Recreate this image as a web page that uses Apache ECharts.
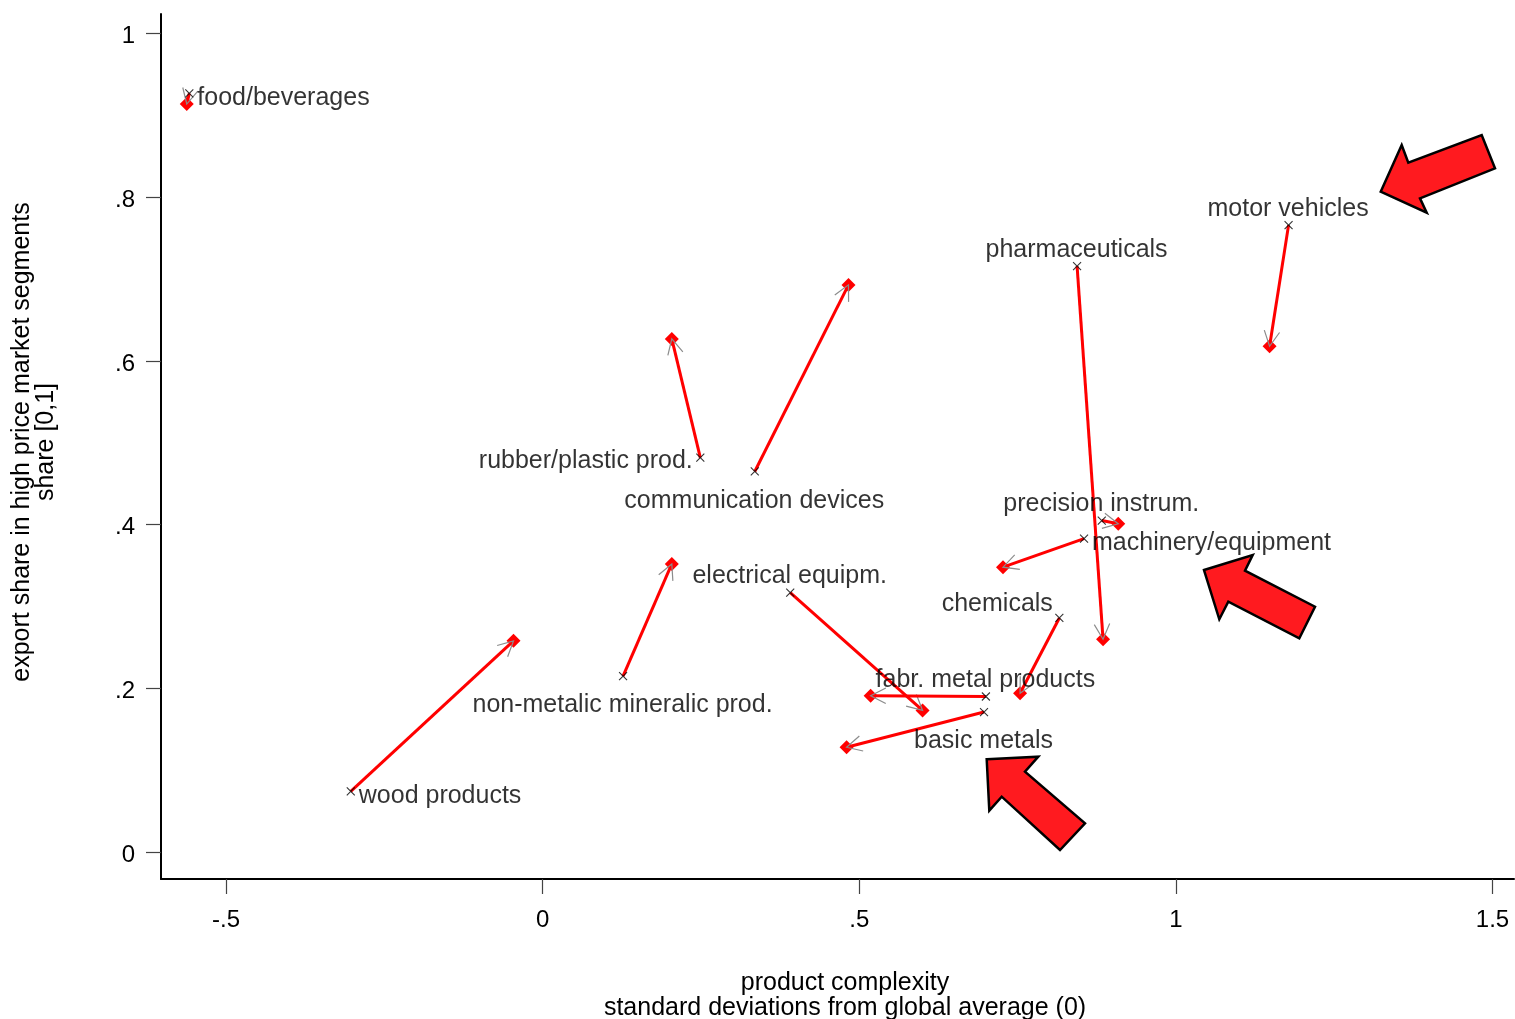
<!DOCTYPE html>
<html>
<head>
<meta charset="utf-8">
<script src="https://cdn.jsdelivr.net/npm/echarts@6/dist/echarts.min.js"></script>
<style>
html,body{margin:0;padding:0;background:#fff;}
#chart{width:1515px;height:1019px;}
</style>
</head>
<body>
<div id="chart"></div>
<script>
// ---- data ----
var industries = ['food/beverages','motor vehicles','pharmaceuticals','rubber/plastic prod.','communication devices','precision instrum.','machinery/equipment','electrical equipm.','chemicals','non-metalic mineralic prod.','wood products','fabr. metal products','basic metals'];
var complexityStart = [-0.558, 1.178, 0.844, 0.249, 0.335, 0.883, 0.855, 0.391, 0.816, 0.127, -0.303, 0.700, 0.697];
var shareStart      = [0.927, 0.766, 0.716, 0.482, 0.465, 0.405, 0.383, 0.317, 0.286, 0.215, 0.074, 0.190, 0.171];
var complexityEnd   = [-0.562, 1.148, 0.885, 0.204, 0.483, 0.909, 0.727, 0.600, 0.754, 0.204, -0.046, 0.518, 0.480];
var shareEnd        = [0.914, 0.618, 0.260, 0.627, 0.693, 0.401, 0.348, 0.173, 0.194, 0.352, 0.258, 0.191, 0.128];
var labelPlacement  = ['right','top','top','left','bottom','top','right','top','topleft','bottom','right','top','bottom'];
var xTicks = [-0.5, 0, 0.5, 1, 1.5];
var xTickLabels = ['-.5', '0', '.5', '1', '1.5'];
var yTicks = [0, 0.2, 0.4, 0.6, 0.8, 1];
var yTickLabels = ['0', '.2', '.4', '.6', '.8', '1'];
var xTitle = 'product complexity\nstandard deviations from global average (0)';
var yTitle = 'export share in high price market segments\nshare [0,1]';

var FONT = '"Liberation Sans", Arial, sans-serif';

// label placement styles (relative to the 8x8 marker box)
var placementStyle = {
  right:   {position: [14.5, 11.5], align: 'left', verticalAlign: 'middle'},
  left:    {position: [-1, 10.5], align: 'right', verticalAlign: 'middle'},
  top:     {position: [6, -9.5], align: 'center', verticalAlign: 'middle'},
  bottom:  {position: [6, 36], align: 'center', verticalAlign: 'middle'},
  topleft: {position: [0, -7.5], align: 'right', verticalAlign: 'middle'}
};

function labelFor(p) {
  var base = {show: true, fontSize: 25, color: '#000', fontFamily: FONT, formatter: '{b}'};
  return Object.assign(base, placementStyle[p]);
}

var startData = industries.map(function (n, i) {
  return {name: n, value: [complexityStart[i], shareStart[i]], label: labelFor(labelPlacement[i])};
});
var endData = industries.map(function (n, i) { return [complexityEnd[i], shareEnd[i]]; });
var arrowData = industries.map(function (n, i) {
  return [complexityStart[i], shareStart[i], complexityEnd[i], shareEnd[i]];
});

function tickIdx(arr, v) {
  for (var i = 0; i < arr.length; i++) if (Math.abs(arr[i] - v) < 1e-9) return i;
  return -1;
}

function bigArrow(pts) {
  return {
    type: 'polygon',
    shape: {points: pts},
    style: {fill: '#FF1A1F', stroke: '#000', lineWidth: 2.5, lineJoin: 'miter'},
    z: 100
  };
}

var chart = echarts.init(document.getElementById('chart'), null, {renderer: 'canvas'});
chart.setOption({
  animation: false,
  backgroundColor: '#fff',
  grid: {left: 161, right: 1, top: 14, bottom: 140, containLabel: false},
  xAxis: {
    type: 'value', min: -0.6027, max: 1.534,
    splitLine: {show: false},
    axisLine: {show: true, onZero: false, lineStyle: {color: '#000', width: 2}},
    axisTick: {show: true, inside: false, length: 15, customValues: xTicks, lineStyle: {color: '#444', width: 1.2}},
    axisLabel: {show: true, margin: 29, fontSize: 24, color: '#000', fontFamily: FONT, customValues: xTicks,
      formatter: function (v) { var k = tickIdx(xTicks, v); return k >= 0 ? xTickLabels[k] : ''; }}
  },
  yAxis: {
    type: 'value', min: -0.033, max: 1.024,
    splitLine: {show: false},
    axisLine: {show: true, onZero: false, lineStyle: {color: '#000', width: 2}},
    axisTick: {show: true, inside: false, length: 15, customValues: yTicks, lineStyle: {color: '#444', width: 1.2}},
    axisLabel: {show: true, margin: 26, fontSize: 24, color: '#000', fontFamily: FONT, customValues: yTicks,
      rich: {t: {fontSize: 24, color: '#000', fontFamily: FONT, padding: [6, 0, 0, 0]}},
      formatter: function (v) { var k = tickIdx(yTicks, v); return k >= 0 ? '{t|' + yTickLabels[k] + '}' : ''; }}
  },
  series: [
    {
      type: 'scatter', name: 'end', data: endData, symbol: 'diamond', symbolSize: 14,
      itemStyle: {color: '#FF0000', opacity: 1}, z: 2, silent: true
    },
    {
      type: 'custom', name: 'change', data: arrowData, z: 3, silent: true,
      encode: {x: [0, 2], y: [1, 3]},
      renderItem: function (params, api) {
        var p0 = api.coord([api.value(0), api.value(1)]);
        var p1 = api.coord([api.value(2), api.value(3)]);
        var dx = p1[0] - p0[0], dy = p1[1] - p0[1];
        var ang = Math.atan2(dy, dx);
        var L = 17, a = 27 * Math.PI / 180;
        var b1 = [p1[0] - L * Math.cos(ang - a), p1[1] - L * Math.sin(ang - a)];
        var b2 = [p1[0] - L * Math.cos(ang + a), p1[1] - L * Math.sin(ang + a)];
        return {
          type: 'group',
          children: [
            {type: 'line', shape: {x1: p0[0], y1: p0[1], x2: p1[0], y2: p1[1]}, style: {stroke: '#FF0000', lineWidth: 3}},
            {type: 'polyline', shape: {points: [b1, p1, b2]}, style: {stroke: '#8c8c8c', lineWidth: 1.2, fill: null}}
          ]
        };
      }
    },
    {
      type: 'scatter', name: 'start', data: startData,
      symbol: 'path://M0,0L10,10M10,0L0,10', symbolSize: 8,
      itemStyle: {color: 'none', borderColor: '#000', borderWidth: 1.1}, z: 4, silent: true
    }
  ],
  graphic: [
    {type: 'text', x: 34, y: 442, rotation: Math.PI / 2,
      style: {text: yTitle, font: '25px ' + FONT, fill: '#000', align: 'center', verticalAlign: 'middle', lineHeight: 24}},
    {type: 'text', x: 845, y: 996,
      style: {text: xTitle, font: '25px ' + FONT, fill: '#000', align: 'center', verticalAlign: 'middle', lineHeight: 25}},
    bigArrow([[1380.7,191.7],[1401.7,145],[1408.3,162.7],[1481.7,135],[1495,168.3],[1420,198.3],[1426.7,212.7]]),
    bigArrow([[1204,570],[1252.7,555],[1245,570.7],[1315,606.7],[1299.3,638.3],[1228.3,601.7],[1219.3,619.3]]),
    bigArrow([[986.7,759.3],[1038.3,756.7],[1025,771.7],[1085,823.3],[1060,850],[1001.7,796.7],[989.3,810.7]])
  ]
});
</script>
</body>
</html>
